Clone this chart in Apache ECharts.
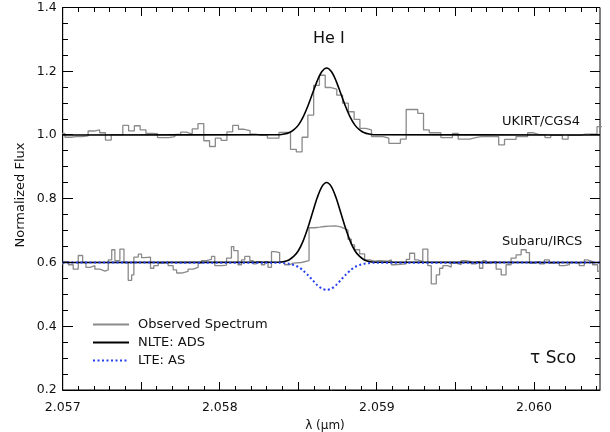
<!DOCTYPE html>
<html>
<head>
<meta charset="utf-8">
<script src="https://cdn.jsdelivr.net/npm/echarts@6/dist/echarts.min.js"></script>
<style>
  html, body { margin: 0; padding: 0; background: #fff; }
  #chart { width: 610px; height: 432px; }
</style>
</head>
<body>
<div id="chart"></div>
<script>
// ---------------- DATA ----------------
const xMin = 2.057, xMax = 2.06042;
const yMin = 0.2, yMax = 1.4;
const xTickLabels = ['2.057', '2.058', '2.059', '2.060'];
const yTickLabels = ['0.2', '0.4', '0.6', '0.8', '1.0', '1.2', '1.4'];

// UKIRT/CGS4 observed spectrum: uniform wavelength grid (bin start + width), flux per bin
const ukirtStart = 2.0569777;
const ukirtBin = 0.00003681;
const ukirtFlux = [
  1.005, 0.993, 0.995, 0.995, 0.997, 1.0125, 1.016, 1.007, 0.984, 1.001,
  1.001, 1.030, 1.013, 1.029, 1.016, 1.005, 1.004, 0.992, 0.992, 0.995,
  1.002, 1.009, 1.003, 1.019, 1.036, 0.982, 0.964, 0.990, 0.983, 1.010,
  1.030, 1.018, 1.014, 1.003, 0.999, 0.999, 0.990, 0.990, 1.008, 1.008,
  0.955, 0.947, 0.993, 1.0625, 1.156, 1.1875, 1.149, 1.144, 1.125, 1.100,
  1.073, 1.049, 1.021, 1.016, 0.995, 0.995, 0.990, 0.974, 0.974, 0.987,
  1.080, 1.080, 1.068, 1.016, 1.007, 1.007, 0.992, 0.992, 1.005, 0.987,
  0.987, 0.992, 0.995, 0.995, 0.995, 0.995, 0.969, 0.986, 0.986, 0.995,
  0.995, 1.007, 1.001, 1.001, 0.992, 0.999, 0.999, 0.987, 0.999, 0.999,
  1.003, 1.003, 1.003, 1.026
];

// Subaru/IRCS observed spectrum: bin start wavelengths and flux
const subaruWl = [
  2.056983, 2.057004, 2.057036, 2.057067, 2.057099, 2.057127, 2.057148, 2.057174, 2.057205, 2.057237,
  2.057269, 2.057290, 2.057312, 2.057332, 2.057364, 2.057390, 2.057417, 2.057439, 2.057453, 2.057481,
  2.057502, 2.057523, 2.057559, 2.057580, 2.057608, 2.057640, 2.057671, 2.057703, 2.057725, 2.057757,
  2.057798, 2.057830, 2.057862, 2.057884, 2.057915, 2.057947, 2.057968, 2.058011, 2.058043, 2.058074,
  2.058089, 2.058116, 2.058138, 2.058159, 2.058191, 2.058212, 2.058233, 2.058265, 2.058286, 2.058307,
  2.058329, 2.058350, 2.058381, 2.058413, 2.058445, 2.058466, 2.058519, 2.058568, 2.058604, 2.058636,
  2.058667, 2.058699, 2.058737, 2.058769, 2.058795, 2.058816, 2.058837, 2.058858, 2.058890, 2.058922,
  2.058954, 2.058985, 2.059017, 2.059070, 2.059092, 2.059112, 2.059187, 2.059208, 2.059240, 2.059261,
  2.059292, 2.059324, 2.059346, 2.059378, 2.059399, 2.059420, 2.059451, 2.059473, 2.059505, 2.059536,
  2.059568, 2.059600, 2.059632, 2.059653, 2.059674, 2.059695, 2.059716, 2.059737, 2.059759, 2.059791,
  2.059822, 2.059854, 2.059886, 2.059918, 2.059950, 2.059971, 2.060002, 2.060034, 2.060066, 2.060098,
  2.060130, 2.060161, 2.060193, 2.060225, 2.060257, 2.060288, 2.060320, 2.060341, 2.060373, 2.060405,
  2.060420
];
const subaruFlux = [
  0.596, 0.603, 0.593, 0.579, 0.622, 0.600, 0.585, 0.590, 0.579, 0.573,
  0.577, 0.608, 0.640, 0.606, 0.642, 0.600, 0.544, 0.561, 0.617, 0.626,
  0.615, 0.617, 0.582, 0.590, 0.598, 0.600, 0.590, 0.577, 0.567, 0.572,
  0.579, 0.585, 0.598, 0.606, 0.610, 0.619, 0.590, 0.592, 0.614, 0.650,
  0.6375, 0.593, 0.608, 0.619, 0.606, 0.596, 0.603, 0.593, 0.603, 0.585,
  0.634, 0.631, 0.603, 0.593, 0.598, 0.600, 0.606, 0.709, 0.711, 0.713,
  0.714, 0.715, 0.712, 0.706, 0.702, 0.673, 0.655, 0.640, 0.627, 0.608,
  0.604, 0.606, 0.604, 0.608, 0.593, 0.596, 0.610, 0.629, 0.608, 0.603,
  0.642, 0.590, 0.533, 0.561, 0.582, 0.590, 0.585, 0.598, 0.593, 0.606,
  0.603, 0.596, 0.603, 0.582, 0.606, 0.598, 0.600, 0.603, 0.579, 0.561,
  0.593, 0.614, 0.624, 0.640, 0.631, 0.598, 0.603, 0.596, 0.608, 0.598,
  0.600, 0.590, 0.593, 0.600, 0.598, 0.590, 0.608, 0.603, 0.593, 0.572,
  0.572
];

// Model profiles
const modelWl = [
  2.05700, 2.05838, 2.05841, 2.05844, 2.05847, 2.05850, 2.05853, 2.05856, 2.05859, 2.05862,
  2.05865, 2.05868, 2.05871, 2.05874, 2.05877, 2.05880, 2.05883, 2.05886, 2.05889, 2.05892,
  2.05895, 2.05898, 2.06042
];
const ukirtNLTE = [
  1.000, 1.001, 1.003, 1.007, 1.016, 1.031, 1.056, 1.090, 1.130, 1.170,
  1.199, 1.210, 1.199, 1.170, 1.130, 1.090, 1.056, 1.031, 1.016, 1.007,
  1.003, 1.001, 1.000
];
const subaruNLTE = [
  0.600, 0.601, 0.603, 0.608, 0.619, 0.637, 0.667, 0.708, 0.756, 0.803,
  0.838, 0.851, 0.838, 0.803, 0.756, 0.708, 0.667, 0.637, 0.619, 0.608,
  0.603, 0.601, 0.600
];
const subaruLTE = [
  0.600, 0.599, 0.598, 0.596, 0.592, 0.586, 0.575, 0.561, 0.545, 0.529,
  0.518, 0.514, 0.518, 0.529, 0.545, 0.561, 0.575, 0.586, 0.592, 0.596,
  0.598, 0.599, 0.600
];

const seriesNames = ['Observed Spectrum', 'NLTE: ADS', 'LTE: AS'];
const annotations = { line: 'He I', upper: 'UKIRT/CGS4', lower: 'Subaru/IRCS', star: 'τ Sco' };
const axisNames = { x: 'λ (μm)', y: 'Normalized Flux' };

// Axis tick spacing (IDL-style inward ticks on all four sides)
const xMajorStep = 0.0005, xMinorStep = 0.0001;
const yMajorStep = 0.2, yMinorStep = 0.05;

// ---------------- BUILD ----------------
const ukirtData = ukirtFlux.map((v, i) => [ukirtStart + i * ukirtBin, v]);
ukirtData.push([ukirtStart + ukirtFlux.length * ukirtBin, ukirtFlux[ukirtFlux.length - 1]]);
const subaruData = subaruWl.map((w, i) => [w, subaruFlux[i]]);
const pair = (ys) => modelWl.map((w, i) => [w, ys[i]]);

const FONT = 'DejaVu Sans';
const TXT = '#111';

function xLabel(v) {
  const k = Math.round(v * 1000);
  if (Math.abs(v * 1000 - k) > 1e-6) return '';
  const s = v.toFixed(3);
  return xTickLabels.indexOf(s) >= 0 ? s : '';
}
function yLabel(v) {
  const s = v.toFixed(1);
  return yTickLabels.indexOf(s) >= 0 ? s : '';
}

const textGraphics = [
  { type: 'text', left: 313, top: 31, style: { text: annotations.line, font: '16px "DejaVu Sans"', fill: TXT } },
  { type: 'text', left: 502, top: 115, style: { text: annotations.upper, font: '13px "DejaVu Sans"', fill: TXT } },
  { type: 'text', left: 502, top: 235, style: { text: annotations.lower, font: '13px "DejaVu Sans"', fill: TXT } },
  { type: 'text', left: 530, top: 350, style: { text: annotations.star, font: '17px "DejaVu Sans"', fill: TXT } },
  { type: 'text', x: 21, y: 195, rotation: Math.PI / 2,
    style: { text: axisNames.y, font: '13px "DejaVu Sans"', fill: TXT, align: 'center', verticalAlign: 'middle' } },
  { type: 'text', x: 325, y: 426,
    style: { text: axisNames.x, font: '12px "DejaVu Sans"', fill: TXT, align: 'center', verticalAlign: 'middle' } }
];

const chart = echarts.init(document.getElementById('chart'));
chart.setOption({
  animation: false,
  backgroundColor: '#fff',
  grid: { left: 62.7, right: 10, top: 7.5, bottom: 42, outerBoundsMode: 'none',
          show: true, borderColor: '#000', borderWidth: 1, backgroundColor: 'transparent' },
  xAxis: {
    type: 'value', min: xMin, max: xMax, interval: xMajorStep,
    axisLine: { show: true, onZero: false, lineStyle: { color: '#000' } },
    axisTick: { show: false }, minorTick: { show: false },
    splitLine: { show: false },
    axisLabel: { show: true, formatter: xLabel, margin: 11, color: TXT, fontFamily: FONT, fontSize: 12.5 }
  },
  yAxis: {
    type: 'value', min: yMin, max: yMax, interval: yMajorStep,
    axisLine: { show: true, onZero: false, lineStyle: { color: '#000' } },
    axisTick: { show: false }, minorTick: { show: false },
    splitLine: { show: false },
    axisLabel: { show: true, formatter: yLabel, margin: 6, color: TXT, fontFamily: FONT, fontSize: 12.5 }
  },
  legend: {
    orient: 'vertical', left: 87, top: 313, itemWidth: 36, itemHeight: 14, itemGap: 5,
    data: seriesNames, selectedMode: false,
    itemStyle: { opacity: 0 },
    textStyle: { fontFamily: FONT, fontSize: 13, color: TXT, padding: [0, 0, 0, 4] }
  },
  series: [
    { name: seriesNames[0], type: 'line', data: ukirtData, step: 'end', symbol: 'none',
      lineStyle: { color: '#8a8a8a', width: 1.3 }, itemStyle: { color: '#8a8a8a' }, z: 2 },
    { name: seriesNames[0], type: 'line', data: subaruData, step: 'end', symbol: 'none',
      lineStyle: { color: '#8a8a8a', width: 1.3 }, itemStyle: { color: '#8a8a8a' }, z: 2 },
    { name: seriesNames[1], type: 'line', data: pair(ukirtNLTE), symbol: 'none', smooth: 0.3,
      lineStyle: { color: '#000', width: 1.6 }, itemStyle: { color: '#000' }, z: 3 },
    { name: seriesNames[1], type: 'line', data: pair(subaruNLTE), symbol: 'none', smooth: 0.3,
      lineStyle: { color: '#000', width: 1.6 }, itemStyle: { color: '#000' }, z: 3 },
    { name: seriesNames[2], type: 'line', data: pair(subaruLTE), symbol: 'none', smooth: 0.3,
      lineStyle: { color: '#2440f0', width: 2, type: [2, 2.5] }, itemStyle: { color: '#2440f0' }, z: 4 }
  ],
  graphic: textGraphics
});

// Inward tick marks on all four sides, positioned through the chart's own axis scales
const tickGraphics = [];
const toX = (v) => chart.convertToPixel({ xAxisIndex: 0 }, v);
const toY = (v) => chart.convertToPixel({ yAxisIndex: 0 }, v);
const gl = Math.round(toX(xMin)), gr = Math.round(toX(xMax));
const gt = Math.round(toY(yMax)), gb = Math.round(toY(yMin));
const xPerMajor = Math.round(xMajorStep / xMinorStep);
for (let i = 0; xMin + i * xMinorStep <= xMax + 1e-9; i++) {
  const px = Math.floor(toX(xMin + i * xMinorStep));
  const len = (i % xPerMajor === 0) ? 8 : 4;
  tickGraphics.push({ type: 'rect', silent: true, z: 100, shape: { x: px, y: gb - len, width: 1, height: len }, style: { fill: '#000' } });
  tickGraphics.push({ type: 'rect', silent: true, z: 100, shape: { x: px, y: gt, width: 1, height: len }, style: { fill: '#000' } });
}
const yPerMajor = Math.round(yMajorStep / yMinorStep);
for (let i = 0; yMin + i * yMinorStep <= yMax + 1e-9; i++) {
  const py = Math.floor(toY(yMin + i * yMinorStep));
  const len = (i % yPerMajor === 0) ? 10 : 5;
  tickGraphics.push({ type: 'rect', silent: true, z: 100, shape: { x: gl, y: py, width: len, height: 1 }, style: { fill: '#000' } });
  tickGraphics.push({ type: 'rect', silent: true, z: 100, shape: { x: gr - len, y: py, width: len, height: 1 }, style: { fill: '#000' } });
}
chart.setOption({ graphic: textGraphics.concat(tickGraphics) });
</script>
</body>
</html>
